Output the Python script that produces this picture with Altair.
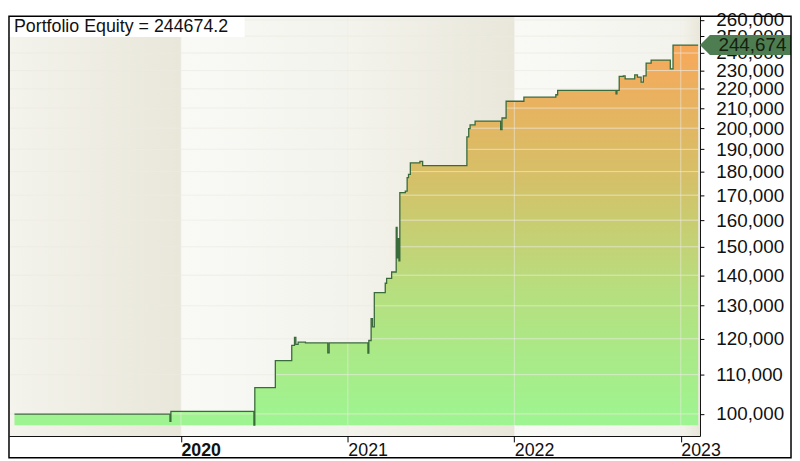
import pandas as pd
import altair as alt

# equity curve (step changes)
dates = [
    "2019-01-01", "2019-12-08", "2019-12-10", "2020-06-09", "2020-06-11",
    "2020-07-26", "2020-08-31", "2020-09-06", "2020-09-09", "2020-09-14",
    "2020-09-30", "2020-11-18", "2020-11-21", "2021-02-14", "2021-02-16",
    "2021-02-21", "2021-02-24", "2021-02-28", "2021-03-24", "2021-03-27",
    "2021-04-07", "2021-04-17", "2021-04-19", "2021-04-21", "2021-04-23",
    "2021-04-25", "2021-05-07", "2021-05-11", "2021-05-14", "2021-05-18",
    "2021-06-08", "2021-06-14", "2021-09-19", "2021-09-23", "2021-09-26",
    "2021-10-07", "2021-12-02", "2021-12-05", "2021-12-14", "2022-01-22",
    "2022-04-02", "2022-04-06", "2022-08-12", "2022-08-14", "2022-08-19",
    "2022-08-28", "2022-09-01", "2022-09-22", "2022-09-28", "2022-10-06",
    "2022-10-11", "2022-10-17", "2022-10-28", "2022-12-09", "2022-12-15",
    "2023-02-08",
]
equity = [
    99950, 98200, 100600, 97300, 106600,
    113800, 118100, 120400, 118400, 119000,
    118800, 116000, 118800, 115900, 119500,
    126000, 123500, 134200, 137300, 138900,
    141100, 157200, 146000, 153000, 145000,
    171100, 171700, 177400, 178800, 183900,
    184500, 182600, 195800, 199800, 201600,
    203500, 199300, 205000, 213500, 215600,
    216900, 219200, 217400, 219200, 226800,
    227100, 225400, 227600, 226400, 223600,
    227100, 234200, 235900, 231000, 244674,
    244674,
]
final_equity = 244674.2

y_ticks = list(range(100000, 270000, 10000))
year_ticks = [2020, 2021, 2022, 2023]

# alternating year panels in the background
band_start = ["2018-12-20", "2020-01-01", "2021-01-01", "2022-01-01", "2023-01-01"]
band_end = ["2020-01-01", "2021-01-01", "2022-01-01", "2023-01-01", "2023-02-12"]
band_kind = ["shade", "plain", "shade", "plain", "shade"]

W, H = 698, 424
FONT = "Liberation Sans"

eq = pd.DataFrame({"date": pd.to_datetime(dates), "equity": equity})
bands = pd.DataFrame({"start": pd.to_datetime(band_start),
                      "end": pd.to_datetime(band_end),
                      "kind": band_kind})
ticks = pd.DataFrame({"v": y_ticks})
years = pd.DataFrame({"date": pd.to_datetime([f"{y}-01-01" for y in year_ticks])})
one = pd.DataFrame({"label": [f"Portfolio Equity = {final_equity}"],
                    "v": [final_equity],
                    "short": [f"{round(final_equity):,}"]})

xscale = alt.Scale(domain=[alt.DateTime(year=2018, month=12, date=20),
                           alt.DateTime(year=2023, month=2, date=12)], nice=False)
yscale = alt.Scale(type="log", domain=[94800, 262400], nice=False, zero=False)

x_axis = alt.Axis(values=[alt.DateTime(year=y) for y in year_ticks], format="%Y",
                  title=None, grid=False, orient="bottom", labelAlign="left",
                  labelPadding=0, labelBaseline="top", tickSize=6, tickColor="black",
                  domainColor="black", labelColor="#111", labelFont=FONT, labelFontSize=18,
                  labelOverlap=False,
                  labelFontWeight={"condition": {"test": "year(datum.value) === 2020",
                                                 "value": "bold"}, "value": "normal"})
y_axis = alt.Axis(values=y_ticks, format=",d", title=None, grid=False, orient="right",
                  tickSize=4, tickColor="black", domainColor="black", labelPadding=12,
                  labelColor="#111", labelFont=FONT, labelFontSize=19,
                  labelOverlap=False, labelBound=False)

shade = alt.Chart(bands).transform_filter("datum.kind == 'shade'").mark_rect(
    color=alt.Gradient(gradient="linear",
                       stops=[alt.GradientStop(color="#f4f3ec", offset=0),
                              alt.GradientStop(color="#e9e7da", offset=1)],
                       x1=0, x2=1, y1=0, y2=0)
).encode(x=alt.X("start:T", scale=xscale, axis=x_axis), x2="end:T",
         y=alt.value(0), y2=alt.value(H))

plain = alt.Chart(bands).transform_filter("datum.kind == 'plain'").mark_rect(
    color=alt.Gradient(gradient="linear",
                       stops=[alt.GradientStop(color="#f9f9f6", offset=0),
                              alt.GradientStop(color="#f3f3ed", offset=1)],
                       x1=0, x2=1, y1=0, y2=0)
).encode(x=alt.X("start:T", scale=xscale, axis=x_axis), x2="end:T",
         y=alt.value(0), y2=alt.value(H))

area = alt.Chart(eq).mark_area(
    interpolate="step-after",
    color=alt.Gradient(gradient="linear",
                       stops=[alt.GradientStop(color="#9df591", offset=0),
                              alt.GradientStop(color="#b6df7f", offset=0.35),
                              alt.GradientStop(color="#d5c068", offset=0.65),
                              alt.GradientStop(color="#f7a85a", offset=1)],
                       x1=1, x2=1, y1=1, y2=0)
).encode(x=alt.X("date:T", scale=xscale, axis=x_axis),
         y=alt.Y("equity:Q", scale=yscale, axis=y_axis),
         y2=alt.datum(97300))

hgrid = alt.Chart(ticks).mark_rule(color="#ecebe2", opacity=0.7, strokeWidth=1).encode(
    y=alt.Y("v:Q", scale=yscale, axis=y_axis))
vgrid = alt.Chart(years).mark_rule(color="#ecebe2", opacity=0.6, strokeWidth=1).encode(
    x=alt.X("date:T", scale=xscale, axis=x_axis))

line = alt.Chart(eq).mark_line(interpolate="step-after", color="#3a6b3a", strokeWidth=1.3).encode(
    x=alt.X("date:T", scale=xscale, axis=x_axis),
    y=alt.Y("equity:Q", scale=yscale, axis=y_axis))

title_box = alt.Chart(one).mark_rect(color="white").encode(
    x=alt.value(0), x2=alt.value(238), y=alt.value(0), y2=alt.value(21))
title_text = alt.Chart(one).mark_text(align="left", baseline="middle", font=FONT,
                                      fontSize=18, color="#111").encode(
    x=alt.value(5), y=alt.value(11), text="label:N")

tag = alt.Chart(one).mark_point(
    shape="M -1 0 L -0.78 -0.22 L 1 -0.22 L 1 0.22 L -0.78 0.22 Z",
    size=8464, filled=True, color="#4e7d51", opacity=1, strokeWidth=0
).encode(x=alt.value(W + 46), y=alt.Y("v:Q", scale=yscale, axis=y_axis))
tag_text = alt.Chart(one).mark_text(align="center", baseline="middle", font=FONT,
                                    fontSize=19, color="#15200f").encode(
    x=alt.value(W + 53), y=alt.Y("v:Q", scale=yscale, axis=y_axis), text="short:N")

frame = alt.Chart(one).mark_rect(fillOpacity=0, stroke="black", strokeWidth=1.5).encode(
    x=alt.value(0), x2=alt.value(W + 92), y=alt.value(0), y2=alt.value(H + 22))

chart = alt.layer(shade, plain, area, hgrid, vgrid, line, title_box, title_text,
                  tag, tag_text, frame).properties(
    width=W, height=H, padding=0, background="white"
).configure_view(stroke=None)

chart.save("out.html", embed_options={"renderer": "svg", "actions": False})
